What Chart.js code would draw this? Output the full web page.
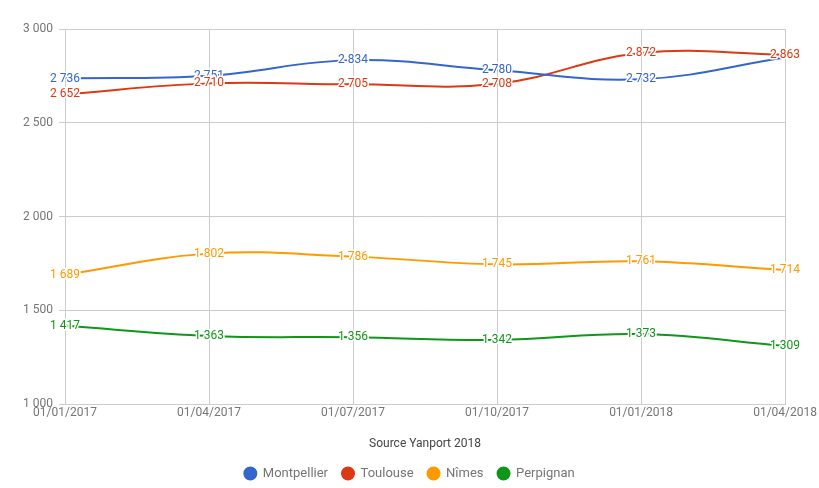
<!DOCTYPE html>
<html lang="fr">
<head>
    <meta charset="UTF-8">
    <title>Prix Occitanie</title>
    <script src="https://cdn.jsdelivr.net/npm/chart.js"></script>
    <style>
        html, body { margin: 0; padding: 0; background: #fff; }
        #wrap { width: 819px; height: 488px; }
    </style>
</head>
<body>
<div id="wrap"><canvas id="myChart" width="819" height="488"></canvas></div>

<script>
    const labels = ['01/01/2017', '01/04/2017', '01/07/2017', '01/10/2017', '01/01/2018', '01/04/2018']
    const seriesNames = ['Montpellier', 'Toulouse', 'Nîmes', 'Perpignan']
    const montpellier = [2736, 2751, 2834, 2780, 2732, 2848]
    const toulouse = [2652, 2710, 2705, 2708, 2872, 2863]
    const nimes = [1689, 1802, 1786, 1745, 1761, 1714]
    const perpignan = [1417, 1363, 1356, 1342, 1373, 1309]
    // the reference hides the last Montpellier label (overlap with Toulouse)
    const hiddenLabels = [[5], [], [], []]
    const colors = ['#3366cc', '#dc3912', '#ff9900', '#109618']
    const yTicks = [1000, 1500, 2000, 2500, 3000]

    const fmt = v => String(v).replace(/\B(?=(\d{3})+(?!\d))/g, ' ')

    const pointLabels = {
        id: 'pointLabels',
        afterDatasetsDraw(chart) {
            const ctx = chart.ctx
            ctx.save()
            ctx.font = '12px Roboto'
            ctx.textAlign = 'center'
            ctx.textBaseline = 'middle'
            ctx.lineJoin = 'round'
            chart.data.datasets.forEach((ds, i) => {
                const meta = chart.getDatasetMeta(i)
                meta.data.forEach((pt, j) => {
                    if (hiddenLabels[i].includes(j)) return
                    const txt = fmt(ds.data[j])
                    ctx.strokeStyle = '#fff'
                    ctx.lineWidth = 3
                    ctx.strokeText(txt, pt.x, pt.y)
                    ctx.fillStyle = ds.borderColor
                    ctx.fillText(txt, pt.x, pt.y)
                })
            })
            ctx.restore()
        }
    }

    const allSeries = [montpellier, toulouse, nimes, perpignan]
    const data = {
        labels: labels,
        datasets: allSeries.map((vals, i) => ({
            label: seriesNames[i],
            data: vals,
            borderColor: colors[i],
            backgroundColor: colors[i],
            borderWidth: 2,
            pointRadius: 0,
            pointHoverRadius: 0,
            pointStyle: 'circle',
            tension: 0.4,
            fill: false
        }))
    }

    Chart.defaults.font.family = 'Roboto'
    Chart.defaults.font.size = 12

    const config = {
        type: 'line',
        data: data,
        options: {
            responsive: false,
            animation: false,
            layout: { padding: { top: 29, right: 0, left: 0, bottom: -2 } },
            plugins: {
                tooltip: { enabled: false },
                legend: {
                    position: 'bottom',
                    labels: {
                        usePointStyle: true,
                        pointStyle: 'circle',
                        boxWidth: 12,
                        boxHeight: 8.5,
                        padding: 14,
                        color: '#757575',
                        font: { size: 13 }
                    }
                }
            },
            scales: {
                x: {
                    offset: false,
                    grid: { color: '#cccccc', drawTicks: false },
                    border: { color: '#cccccc' },
                    ticks: { color: '#757575', padding: 2, maxRotation: 0, autoSkip: false },
                    title: { display: true, text: 'Source Yanport 2018', color: '#444444', font: { size: 12 }, padding: { top: 4, bottom: 2 } },
                    afterFit: scale => { scale.height = 49 }
                },
                y: {
                    min: 1000,
                    max: 3000,
                    grid: { color: '#cccccc', tickLength: 6, tickColor: '#cccccc' },
                    border: { display: false },
                    afterBuildTicks: scale => { scale.ticks = yTicks.map(v => ({ value: v })) },
                    ticks: { color: '#757575', padding: 6, callback: v => fmt(v) },
                    afterFit: scale => { scale.width = 65 }
                }
            }
        },
        plugins: [pointLabels]
    }
    window.myChart = new Chart(document.getElementById('myChart'), config)
</script>
</body>
</html>
